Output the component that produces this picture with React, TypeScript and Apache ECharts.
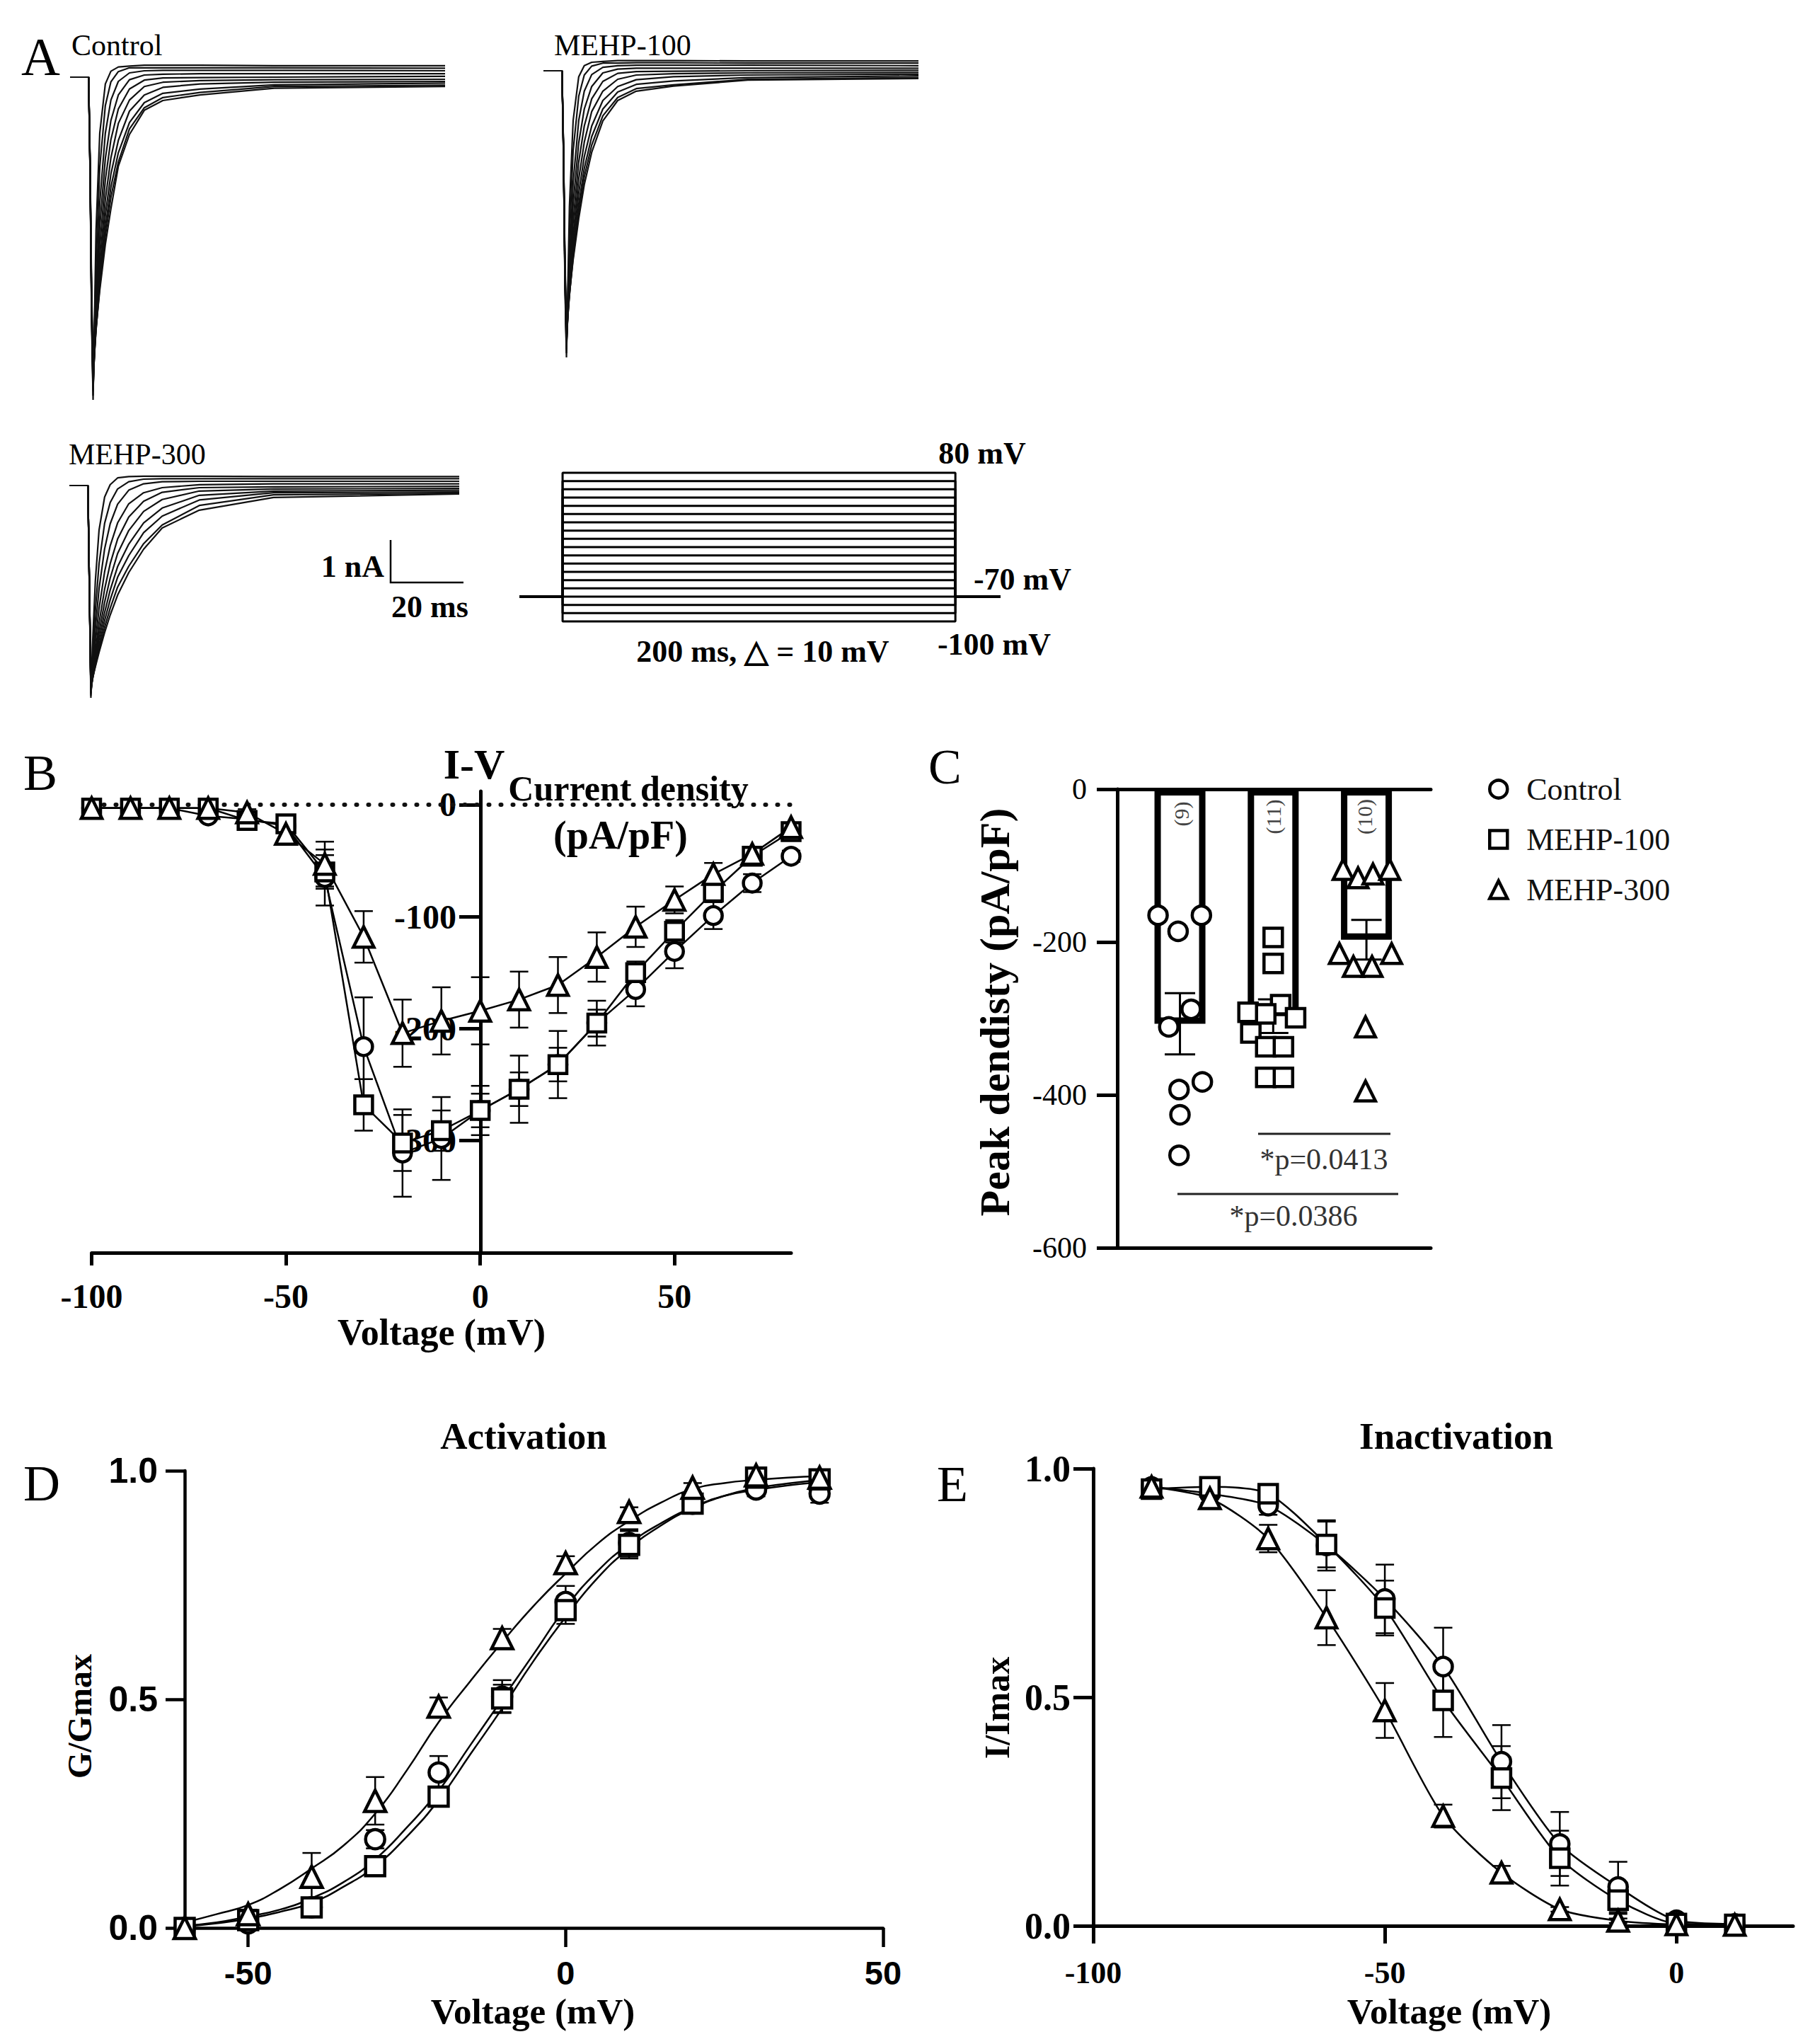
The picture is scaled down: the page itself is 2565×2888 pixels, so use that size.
import React, { useEffect, useRef } from 'react';
import * as echarts from 'echarts';

const SERIF = '"Liberation Serif", "Times New Roman", serif';
const SANS = '"Liberation Sans", Arial, sans-serif';

// ---------- Panel A: whole-cell current traces (time ms, current nA) ----------
const TRACE_T_CTRL = [-5, 0, 0.4, 0.8, 1.2, 2, 3, 4.5, 6, 8, 11, 15, 20, 30, 50, 96];
const TRACES_CTRL = [
  [0, 0, -2.28, -5.7, -7.6, -3.6, -1.32, -0.16, 0.14, 0.24, 0.26, 0.28, 0.28, 0.28, 0.27, 0.27],
  [0, 0, -2.24, -5.6, -7.5, -4.4, -2.12, -0.67, -0.11, 0.13, 0.22, 0.22, 0.22, 0.22, 0.22, 0.21],
  [0, 0, -2.2, -5.5, -7.4, -5.0, -2.96, -1.32, -0.54, -0.1, 0.1, 0.15, 0.16, 0.16, 0.16, 0.15],
  [0, 0, -2.2, -5.5, -7.35, -5.36, -3.52, -1.92, -1.02, -0.42, -0.06, 0.05, 0.07, 0.08, 0.08, 0.08],
  [0, 0, -2.2, -5.4, -7.3, -5.58, -4.0, -2.42, -1.47, -0.75, -0.28, -0.07, -0.02, -0.01, 0, 0.02],
  [0, 0, -2.15, -5.4, -7.2, -5.76, -4.37, -2.88, -1.9, -1.09, -0.54, -0.22, -0.12, -0.08, -0.06, -0.05],
  [0, 0, -2.1, -5.3, -7.1, -5.89, -4.64, -3.25, -2.28, -1.49, -0.8, -0.42, -0.24, -0.16, -0.12, -0.1],
  [0, 0, -2.1, -5.3, -7.0, -5.96, -4.84, -3.54, -2.59, -1.78, -1.07, -0.6, -0.38, -0.28, -0.18, -0.14],
  [0, 0, -2.05, -5.2, -6.9, -5.94, -4.94, -3.74, -2.83, -2.0, -1.22, -0.72, -0.48, -0.36, -0.22, -0.19],
  [0, 0, -2.0, -5.0, -6.7, -5.9, -5.02, -3.94, -3.1, -2.1, -1.35, -0.78, -0.55, -0.42, -0.26, -0.22],
];
const TRACE_T_100 = [-5, 0, 0.4, 0.8, 1.2, 2, 3, 4.5, 6, 8, 11, 15, 20, 30, 50, 96];
const TRACES_100 = [
  [0, 0, -2.0, -5.1, -6.75, -3.2, -1.17, -0.14, 0.12, 0.2, 0.22, 0.24, 0.24, 0.24, 0.23, 0.23],
  [0, 0, -2.0, -5.0, -6.65, -3.9, -1.88, -0.6, -0.1, 0.11, 0.18, 0.18, 0.19, 0.19, 0.18, 0.18],
  [0, 0, -1.95, -4.9, -6.55, -4.45, -2.63, -1.17, -0.48, -0.09, 0.08, 0.12, 0.13, 0.13, 0.13, 0.12],
  [0, 0, -1.95, -4.9, -6.5, -4.75, -3.13, -1.7, -0.9, -0.37, -0.05, 0.04, 0.06, 0.06, 0.06, 0.06],
  [0, 0, -1.95, -4.8, -6.45, -4.95, -3.55, -2.15, -1.3, -0.66, -0.25, -0.06, -0.02, -0.01, 0, 0.01],
  [0, 0, -1.9, -4.8, -6.4, -5.1, -3.88, -2.55, -1.68, -0.96, -0.48, -0.2, -0.1, -0.07, -0.05, -0.04],
  [0, 0, -1.85, -4.7, -6.3, -5.22, -4.1, -2.88, -2.02, -1.3, -0.7, -0.37, -0.21, -0.14, -0.1, -0.08],
  [0, 0, -1.85, -4.7, -6.2, -5.3, -4.3, -3.15, -2.3, -1.55, -0.9, -0.5, -0.32, -0.24, -0.16, -0.12],
  [0, 0, -1.8, -4.6, -6.1, -5.28, -4.4, -3.32, -2.5, -1.75, -1.06, -0.63, -0.42, -0.33, -0.2, -0.16],
  [0, 0, -1.8, -4.5, -5.95, -5.25, -4.45, -3.48, -2.68, -1.92, -1.18, -0.7, -0.48, -0.36, -0.22, -0.18],
];
const TRACE_T_300 = [-5, 0, 0.4, 0.8, 1.2, 2, 3, 4.5, 6, 8, 11, 15, 20, 30, 50, 100];
const TRACES_300 = [
  [0, 0, -2.5, -5.0, -3.83, -2.25, -1.05, -0.27, 0.02, 0.18, 0.21, 0.22, 0.22, 0.22, 0.21, 0.21],
  [0, 0, -2.45, -4.95, -4.16, -2.94, -1.84, -0.89, -0.4, -0.08, 0.09, 0.15, 0.16, 0.16, 0.16, 0.16],
  [0, 0, -2.4, -4.9, -4.32, -3.37, -2.43, -1.49, -0.9, -0.44, -0.11, 0.04, 0.09, 0.1, 0.1, 0.1],
  [0, 0, -2.4, -4.9, -4.45, -3.68, -2.9, -2.03, -1.42, -0.88, -0.43, -0.17, -0.05, 0.02, 0.04, 0.04],
  [0, 0, -2.4, -4.9, -4.54, -3.91, -3.24, -2.44, -1.84, -1.26, -0.74, -0.37, -0.16, -0.05, -0.03, -0.02],
  [0, 0, -2.4, -4.85, -4.56, -4.03, -3.46, -2.75, -2.18, -1.6, -1.06, -0.61, -0.33, -0.13, -0.08, -0.07],
  [0, 0, -2.4, -4.8, -4.56, -4.11, -3.62, -2.99, -2.46, -1.91, -1.38, -0.88, -0.53, -0.23, -0.13, -0.11],
  [0, 0, -2.4, -4.8, -4.59, -4.2, -3.76, -3.18, -2.69, -2.16, -1.65, -1.11, -0.72, -0.34, -0.17, -0.15],
  [0, 0, -2.35, -4.75, -4.57, -4.24, -3.85, -3.34, -2.89, -2.39, -1.9, -1.37, -0.93, -0.47, -0.22, -0.18],
  [0, 0, -2.35, -4.7, -4.55, -4.27, -3.93, -3.46, -3.05, -2.58, -2.05, -1.5, -1.0, -0.58, -0.28, -0.2],
];

// Voltage protocol
const PROTOCOL_STEPS = [80, 70, 60, 50, 40, 30, 20, 10, 0, -10, -20, -30, -40, -50, -60, -70, -80, -90, -100];
const PROTOCOL_HOLD = -70;
const PROTOCOL_T = [-22, 0, 200, 223];

// ---------- Panel B: I-V ----------
const IV_V = [-100, -90, -80, -70, -60, -50, -40, -30, -20, -10, 0, 10, 20, 30, 40, 50, 60, 70, 80];
const IV_CTRL = [-3, -3, -3, -10, -13, -19, -65, -216, -311, -298, -273, -254, -232, -195, -165, -131, -99, -70, -46];
const IV_CTRL_SEM = [1, 1, 1, 2, 3, 5, 25, 44, 39, 37, 22, 30, 30, 20, 15, 15, 12, 8, 5];
const IV_100 = [-3, -3, -3, -3, -14, -17, -60, -268, -302, -291, -273, -254, -232, -195, -150, -113, -78, -46, -24];
const IV_100_SEM = [1, 1, 1, 2, 3, 5, 15, 23, 25, 18, 15, 15, 15, 12, 10, 10, 8, 5, 3];
const IV_300 = [-3, -3, -3, -3, -7, -26, -53, -118, -204, -193, -184, -174, -161, -136, -109, -85, -62, -44, -20];
const IV_300_SEM = [1, 1, 1, 2, 3, 8, 20, 23, 30, 30, 30, 25, 25, 22, 18, 12, 10, 5, 3];
const IV_Y_TICKS = [-300, -200, -100, 0];
const IV_X_TICKS = [-100, -50, 0, 50];

// ---------- Panel C: peak density ----------
const C_GROUPS = ['Control', 'MEHP-100', 'MEHP-300'];
const C_MEANS = [-307, -297, -197];
const C_SEM = [40, 22, 26];
const C_CTRL_POINTS = [-165, -186, -165, -288, -311, -383, -393, -426, -479];
const C_CTRL_JITTER = [-0.235, -0.02, 0.23, 0.12, -0.12, 0.24, -0.01, 0, -0.01];
const C_100_POINTS = [-194, -228, -282, -292, -294, -299, -319, -337, -337, -377, -377];
const C_100_JITTER = [0, 0, 0.08, -0.27, -0.08, 0.24, -0.24, -0.08, 0.11, -0.08, 0.11];
const C_300_POINTS = [-105, -116, -111, -105, -215, -232, -232, -215, -311, -395];
const C_300_JITTER = [-0.25, -0.09, 0.07, 0.25, -0.29, -0.14, 0.06, 0.27, -0.01, -0.01];
const C_N_LABELS = ['(9)', '(11)', '(10)'];

// ---------- Panel D: activation ----------
const ACT_V = [-60, -50, -40, -30, -20, -10, 0, 10, 20, 30, 40];
const ACT_CTRL = [0.0, 0.01, 0.045, 0.194, 0.34, 0.506, 0.713, 0.842, 0.928, 0.959, 0.95];
const ACT_CTRL_SEM = [0.005, 0.01, 0.01, 0.02, 0.036, 0.036, 0.035, 0.03, 0.02, 0.015, 0.02];
const ACT_100 = [0.0, 0.017, 0.045, 0.135, 0.287, 0.502, 0.695, 0.838, 0.928, 0.985, 0.981];
const ACT_100_SEM = [0.003, 0.01, 0.01, 0.015, 0.02, 0.03, 0.03, 0.03, 0.02, 0.01, 0.01];
const ACT_300 = [0.0, 0.03, 0.112, 0.278, 0.484, 0.634, 0.798, 0.91, 0.963, 0.99, 0.985];
const ACT_300_SEM = [0.003, 0.01, 0.052, 0.052, 0.02, 0.02, 0.015, 0.01, 0.01, 0.005, 0.005];
const ACT_FIT_V = [-60, -55, -50, -45, -40, -35, -30, -25, -20, -15, -10, -5, 0, 5, 10, 15, 20, 25, 30, 35, 40];
const ACT_FIT_CTRL = [0.005, 0.012, 0.025, 0.04, 0.065, 0.1, 0.15, 0.22, 0.3, 0.4, 0.5, 0.6, 0.7, 0.78, 0.84, 0.885, 0.92, 0.945, 0.958, 0.968, 0.975];
const ACT_FIT_100 = [0.003, 0.01, 0.02, 0.035, 0.055, 0.09, 0.135, 0.2, 0.28, 0.38, 0.48, 0.585, 0.68, 0.765, 0.83, 0.88, 0.918, 0.945, 0.962, 0.972, 0.98];
const ACT_FIT_300 = [0.012, 0.03, 0.05, 0.085, 0.13, 0.18, 0.25, 0.345, 0.45, 0.54, 0.625, 0.705, 0.775, 0.84, 0.89, 0.93, 0.96, 0.973, 0.98, 0.985, 0.988];

// ---------- Panel E: inactivation ----------
const INACT_V = [-90, -80, -70, -60, -50, -40, -30, -20, -10, 0, 10];
const INACT_CTRL = [0.96, 0.945, 0.919, 0.832, 0.715, 0.567, 0.359, 0.179, 0.085, 0.012, 0.004];
const INACT_CTRL_SEM = [0.01, 0.01, 0.02, 0.055, 0.075, 0.085, 0.08, 0.07, 0.055, 0.01, 0.005];
const INACT_100 = [0.955, 0.96, 0.945, 0.834, 0.695, 0.493, 0.323, 0.148, 0.056, 0.005, 0.003];
const INACT_100_SEM = [0.01, 0.01, 0.01, 0.05, 0.06, 0.08, 0.07, 0.06, 0.03, 0.005, 0.003];
const INACT_300 = [0.96, 0.935, 0.847, 0.674, 0.471, 0.24, 0.116, 0.036, 0.011, 0.003, 0.002];
const INACT_300_SEM = [0.01, 0.01, 0.03, 0.06, 0.06, 0.025, 0.015, 0.005, 0.005, 0.002, 0.002];

// ---------------------------------------------------------------------------
const BLACK = '#000';
const markerStyle = (bw: number) => ({ color: '#fff', borderColor: BLACK, borderWidth: bw, opacity: 1 });
const SYMBOLS = { circle: 'circle', square: 'rect', triangle: 'triangle' };

function errorBars(xi: number, yi: number, data: number[][], cap: number, lw: number, z = 2) {
  return {
    type: 'custom',
    xAxisIndex: xi,
    yAxisIndex: yi,
    z,
    silent: true,
    clip: false,
    data,
    encode: { x: 0, y: [1, 2] },
    renderItem: (params: any, api: any) => {
      const x = api.value(0);
      const lo = api.value(1);
      const hi = api.value(2);
      const a = api.coord([x, hi]);
      const b = api.coord([x, lo]);
      const h = cap / 2;
      const st = { stroke: BLACK, lineWidth: lw };
      return {
        type: 'group',
        children: [
          { type: 'line', shape: { x1: a[0], y1: a[1], x2: b[0], y2: b[1] }, style: st },
          { type: 'line', shape: { x1: a[0] - h, y1: a[1], x2: a[0] + h, y2: a[1] }, style: st },
          { type: 'line', shape: { x1: b[0] - h, y1: b[1], x2: b[0] + h, y2: b[1] }, style: st },
        ],
      };
    },
  };
}

const meanSemRows = (xs: number[], m: number[], s: number[]) => xs.map((x, i) => [x, m[i] - s[i], m[i] + s[i]]);
const pairs = (xs: number[], ys: number[]) => xs.map((x, i) => [x, ys[i]]);

function txt(text: string, x: number, y: number, o: any = {}) {
  return {
    type: 'text',
    x,
    y,
    rotation: o.rot || 0,
    z: 20,
    style: {
      text,
      fill: o.fill || BLACK,
      fontFamily: o.family || SERIF,
      fontSize: o.size || 42,
      fontWeight: o.weight || 'normal',
      align: o.align || 'left',
      verticalAlign: 'middle',
    },
  };
}

function hiddenAxis(gridIndex: number, min: number, max: number) {
  return { type: 'value', gridIndex, min, max, show: false, splitLine: { show: false } };
}

function buildOption() {
  const grid = [
    { left: 99, top: 79, width: 530, height: 498 }, // 0 A control
    { left: 768, top: 70, width: 530, height: 498 }, // 1 A MEHP-100
    { left: 98, top: 656, width: 551, height: 498 }, // 2 A MEHP-300
    { left: 734, top: 668, width: 680, height: 210 }, // 3 protocol
    { left: 129.5, top: 1118, width: 988.5, height: 652 }, // 4 B (data)
    { left: 1579, top: 1115, width: 443, height: 648 }, // 5 C
    { left: 261, top: 2078, width: 987, height: 646 }, // 6 D
    { left: 1545, top: 2075, width: 989, height: 646 }, // 7 E
    { left: 679, top: 1118, width: 439, height: 652 }, // 8 B (y axis at 0 mV)
  ];

  const axLine = (w: number, onZero = false) => ({ show: true, onZero, lineStyle: { color: BLACK, width: w } });
  const tick = (len: number, w: number, custom?: number[]) => ({
    show: true,
    length: len,
    lineStyle: { color: BLACK, width: w },
    ...(custom ? { customValues: custom } : {}),
  });
  const lab = (family: string, size: number, weight: string, margin: number, extra: any = {}) => ({
    show: true,
    fontFamily: family,
    fontSize: size,
    fontWeight: weight,
    color: BLACK,
    margin,
    ...extra,
  });

  const xAxis: any[] = [
    hiddenAxis(0, -5, 96),
    hiddenAxis(1, -5, 96),
    hiddenAxis(2, -5, 100),
    hiddenAxis(3, -22, 223),
    {
      type: 'value', gridIndex: 4, min: -100, max: 80,
      axisLine: axLine(5, false),
      axisTick: tick(18, 5, IV_X_TICKS),
      axisLabel: lab(SERIF, 48, 'bold', 37, { customValues: IV_X_TICKS }),
      splitLine: { show: false },
    },
    {
      type: 'value', gridIndex: 5, min: -0.672, max: 2.69, position: 'top',
      axisLine: axLine(5, false), axisTick: { show: false }, axisLabel: { show: false }, splitLine: { show: false },
    },
    {
      type: 'value', gridIndex: 5, min: -0.672, max: 2.69, position: 'bottom',
      axisLine: axLine(5, false), axisTick: { show: false }, axisLabel: { show: false }, splitLine: { show: false },
    },
    {
      type: 'value', gridIndex: 6, min: -60, max: 50,
      axisLine: axLine(4.5, false),
      axisTick: tick(27, 4.5, [-50, 0, 50]),
      axisLabel: lab(SANS, 47, 'bold', 40, { customValues: [-50, 0, 50] }),
      splitLine: { show: false },
    },
    {
      type: 'value', gridIndex: 7, min: -100, max: 20,
      axisLine: axLine(5, false),
      axisTick: tick(25, 5, [-100, -50, 0]),
      axisLabel: lab(SERIF, 44, 'bold', 44, { customValues: [-100, -50, 0] }),
      splitLine: { show: false },
    },
    hiddenAxis(8, 0, 80),
  ];

  const yAxis: any[] = [
    hiddenAxis(0, -7.8, 0.5),
    hiddenAxis(1, -7.8, 0.5),
    hiddenAxis(2, -7.8, 0.5),
    hiddenAxis(3, -100, 80),
    hiddenAxis(4, -400, 12),
    {
      type: 'value', gridIndex: 5, min: -600, max: 0, interval: 200,
      axisLine: axLine(5, false),
      axisTick: tick(29, 5),
      axisLabel: lab(SERIF, 42, 'normal', 43),
      splitLine: { show: false },
    },
    {
      type: 'value', gridIndex: 6, min: 0, max: 1, interval: 0.5,
      axisLine: axLine(4.5, false),
      axisTick: tick(27, 4.5),
      axisLabel: lab(SANS, 50, 'bold', 38, { formatter: (v: number) => v.toFixed(1) }),
      splitLine: { show: false },
    },
    {
      type: 'value', gridIndex: 7, min: 0, max: 1, interval: 0.5,
      axisLine: axLine(5, false),
      axisTick: tick(28, 5),
      axisLabel: lab(SERIF, 52, 'bold', 32, { formatter: (v: number) => v.toFixed(1) }),
      splitLine: { show: false },
    },
    {
      type: 'value', gridIndex: 8, min: -400, max: 12,
      axisLine: axLine(5, false),
      axisTick: tick(30, 5, IV_Y_TICKS),
      axisLabel: lab(SERIF, 48, 'bold', 34, { customValues: IV_Y_TICKS }),
      splitLine: { show: false },
    },
  ];

  const series: any[] = [];

  // Panel A traces
  const traceSets: [number[], number[][], number][] = [
    [TRACE_T_CTRL, TRACES_CTRL, 0],
    [TRACE_T_100, TRACES_100, 1],
    [TRACE_T_300, TRACES_300, 2],
  ];
  traceSets.forEach(([T, traces, idx]) => {
    traces.forEach((tr) => {
      series.push({
        type: 'line', xAxisIndex: idx, yAxisIndex: idx, data: pairs(T, tr),
        symbol: 'none', silent: true, clip: false,
        lineStyle: { color: '#111', width: 2.2 },
      });
    });
  });

  // Protocol sweeps
  PROTOCOL_STEPS.forEach((v) => {
    series.push({
      type: 'line', xAxisIndex: 3, yAxisIndex: 3, symbol: 'none', silent: true, clip: false,
      data: [
        [PROTOCOL_T[0], PROTOCOL_HOLD], [PROTOCOL_T[1], PROTOCOL_HOLD], [PROTOCOL_T[1], v],
        [PROTOCOL_T[2], v], [PROTOCOL_T[2], PROTOCOL_HOLD], [PROTOCOL_T[3], PROTOCOL_HOLD],
      ],
      lineStyle: { color: BLACK, width: 3 },
    });
  });

  // Panel B
  series.push({
    type: 'line', xAxisIndex: 4, yAxisIndex: 4, symbol: 'none', silent: true, z: 1,
    data: [[-100, 0], [80, 0]],
    lineStyle: { color: '#111', width: 6, type: [1, 16], cap: 'round' },
  });
  const ivGroups: [string, number[], number[], string, number][] = [
    ['IV Control', IV_CTRL, IV_CTRL_SEM, SYMBOLS.circle, 25],
    ['IV MEHP-100', IV_100, IV_100_SEM, SYMBOLS.square, 25],
    ['IV MEHP-300', IV_300, IV_300_SEM, SYMBOLS.triangle, 29],
  ];
  ivGroups.forEach(([name, m, s]) => series.push(errorBars(4, 4, meanSemRows(IV_V, m, s), 26, 2.5, 2)));
  ivGroups.forEach(([name, m, s, sym, size]) =>
    series.push({
      type: 'line', name, xAxisIndex: 4, yAxisIndex: 4, data: pairs(IV_V, m),
      symbol: sym, symbolSize: size, showSymbol: true, clip: false, z: 3,
      itemStyle: markerStyle(4.5), lineStyle: { color: BLACK, width: 2.5 },
    })
  );

  // Panel C
  series.push({
    type: 'bar', name: 'Mean', xAxisIndex: 5, yAxisIndex: 5,
    data: C_MEANS.map((m, i) => [i, m]), barWidth: 72, z: 2,
    itemStyle: { color: '#fff', borderColor: BLACK, borderWidth: 9 },
  });
  series.push(errorBars(5, 5, meanSemRows([0, 1, 2], C_MEANS, C_SEM), 43, 3, 3));
  const cGroups: [string, number[], number[], string, number][] = [
    [C_GROUPS[0], C_CTRL_POINTS, C_CTRL_JITTER, SYMBOLS.circle, 26],
    [C_GROUPS[1], C_100_POINTS, C_100_JITTER, SYMBOLS.square, 26],
    [C_GROUPS[2], C_300_POINTS, C_300_JITTER, SYMBOLS.triangle, 28],
  ];
  cGroups.forEach(([name, pts, jit, sym, size], gi) =>
    series.push({
      type: 'scatter', name, xAxisIndex: 5, yAxisIndex: 5, z: 4,
      data: pts.map((p, k) => [gi + jit[k], p]),
      symbol: sym, symbolSize: size, itemStyle: markerStyle(4.5),
    })
  );

  // Panel D
  const dGroups: [string, number[], number[], number[], string, number][] = [
    ['Act Control', ACT_CTRL, ACT_CTRL_SEM, ACT_FIT_CTRL, SYMBOLS.circle, 27],
    ['Act MEHP-100', ACT_100, ACT_100_SEM, ACT_FIT_100, SYMBOLS.square, 27],
    ['Act MEHP-300', ACT_300, ACT_300_SEM, ACT_FIT_300, SYMBOLS.triangle, 30],
  ];
  dGroups.forEach(([name, m, s, fit]) => {
    series.push({
      type: 'line', name: name + ' fit', xAxisIndex: 7, yAxisIndex: 6, data: pairs(ACT_FIT_V, fit),
      smooth: true, symbol: 'none', silent: true, z: 2, clip: false,
      lineStyle: { color: BLACK, width: 2.5 },
    });
    series.push(errorBars(7, 6, meanSemRows(ACT_V, m, s), 26, 2.5, 2));
  });
  dGroups.forEach(([name, m, s, fit, sym, size]) =>
    series.push({
      type: 'scatter', name, xAxisIndex: 7, yAxisIndex: 6, data: pairs(ACT_V, m), z: 4, clip: false,
      symbol: sym, symbolSize: size, itemStyle: markerStyle(4.5),
    })
  );

  // Panel E
  const eGroups: [string, number[], number[], string, number][] = [
    ['Inact Control', INACT_CTRL, INACT_CTRL_SEM, SYMBOLS.circle, 26],
    ['Inact MEHP-100', INACT_100, INACT_100_SEM, SYMBOLS.square, 26],
    ['Inact MEHP-300', INACT_300, INACT_300_SEM, SYMBOLS.triangle, 29],
  ];
  eGroups.forEach(([name, m, s]) => series.push(errorBars(8, 7, meanSemRows(INACT_V, m, s), 26, 2.5, 2)));
  eGroups.forEach(([name, m, s, sym, size]) =>
    series.push({
      type: 'line', name, xAxisIndex: 8, yAxisIndex: 7, data: pairs(INACT_V, m), smooth: 0.25,
      symbol: sym, symbolSize: size, showSymbol: true, clip: false, z: 3,
      itemStyle: markerStyle(4.5), lineStyle: { color: BLACK, width: 2.5 },
    })
  );

  const graphic: any[] = [
    // panel letters
    txt('A', 30, 80, { size: 76 }),
    txt('B', 33, 1092, { size: 72 }),
    txt('C', 1312, 1083, { size: 70 }),
    txt('D', 33, 2096, { size: 72 }),
    txt('E', 1324, 2097, { size: 72 }),
    // panel A labels
    txt('Control', 101, 64, { size: 42 }),
    txt('MEHP-100', 783, 64, { size: 42 }),
    txt('MEHP-300', 97, 642, { size: 42 }),
    {
      type: 'polyline', z: 20,
      shape: { points: [[552, 763], [552, 823], [655, 823]] },
      style: { stroke: BLACK, lineWidth: 2.5, fill: null },
    },
    txt('1 nA', 543, 800, { size: 44, weight: 'bold', align: 'right' }),
    txt('20 ms', 553, 857, { size: 44, weight: 'bold' }),
    txt('80 mV', 1388, 640, { size: 44, weight: 'bold', align: 'center' }),
    txt('-70 mV', 1445, 818, { size: 44, weight: 'bold', align: 'center' }),
    txt('-100 mV', 1405, 910, { size: 44, weight: 'bold', align: 'center' }),
    txt('200 ms, \u25B3 = 10 mV', 1078, 920, { size: 44, weight: 'bold', align: 'center' }),
    // panel B
    txt('I-V', 670, 1080, { size: 60, weight: 'bold', align: 'center' }),
    txt('Current density', 888, 1114, { size: 50, weight: 'bold', align: 'center' }),
    txt('(pA/pF)', 877, 1180, { size: 56, weight: 'bold', align: 'center' }),
    txt('Voltage (mV)', 624, 1882, { size: 52, weight: 'bold', align: 'center' }),
    // panel C
    txt('Peak dendisty (pA/pF)', 1406, 1430, { size: 60, weight: 'bold', align: 'center', rot: Math.PI / 2 }),
    txt(C_N_LABELS[0], 1669, 1150, { size: 30, align: 'center', rot: Math.PI / 2, fill: '#444' }),
    txt(C_N_LABELS[1], 1799, 1154, { size: 30, align: 'center', rot: Math.PI / 2, fill: '#444' }),
    txt(C_N_LABELS[2], 1928, 1154, { size: 30, align: 'center', rot: Math.PI / 2, fill: '#444' }),
    { type: 'line', z: 20, shape: { x1: 1778, y1: 1602, x2: 1965, y2: 1602 }, style: { stroke: '#222', lineWidth: 3 } },
    { type: 'line', z: 20, shape: { x1: 1664, y1: 1687, x2: 1976, y2: 1687 }, style: { stroke: '#222', lineWidth: 3 } },
    txt('*p=0.0413', 1871, 1638, { size: 42, align: 'center', fill: '#333' }),
    txt('*p=0.0386', 1828, 1718, { size: 42, align: 'center', fill: '#333' }),
    // panel D
    txt('Activation', 740, 2029, { size: 53, weight: 'bold', align: 'center' }),
    txt('G/Gmax', 112, 2425, { size: 48, weight: 'bold', align: 'center', rot: Math.PI / 2 }),
    txt('Voltage (mV)', 753, 2842, { size: 51, weight: 'bold', align: 'center' }),
    // panel E
    txt('Inactivation', 2058, 2029, { size: 53, weight: 'bold', align: 'center' }),
    txt('I/Imax', 1409, 2413, { size: 50, weight: 'bold', align: 'center', rot: Math.PI / 2 }),
    txt('Voltage (mV)', 2048, 2842, { size: 51, weight: 'bold', align: 'center' }),
  ];

  return {
    animation: false,
    backgroundColor: '#fff',
    grid,
    xAxis,
    yAxis,
    series,
    graphic,
    legend: {
      data: C_GROUPS,
      orient: 'vertical',
      left: 2098,
      top: 1088,
      itemWidth: 25,
      itemHeight: 25,
      itemGap: 27,
      selectedMode: false,
      itemStyle: { color: '#fff', borderColor: BLACK, borderWidth: 4.5, opacity: 1 },
      textStyle: { fontFamily: SERIF, fontSize: 44, color: '#111', padding: [0, 0, 0, 22] },
    },
  };
}

export default function App() {
  const ref = useRef<HTMLDivElement>(null);
  useEffect(() => {
    if (!ref.current) return;
    const chart = echarts.init(ref.current, null, { renderer: 'svg' });
    chart.setOption(buildOption() as any);
    return () => chart.dispose();
  }, []);
  return (
    <div
      ref={ref}
      style={{ position: 'absolute', left: 0, top: 0, width: 2565, height: 2888, background: '#fff' }}
    />
  );
}
